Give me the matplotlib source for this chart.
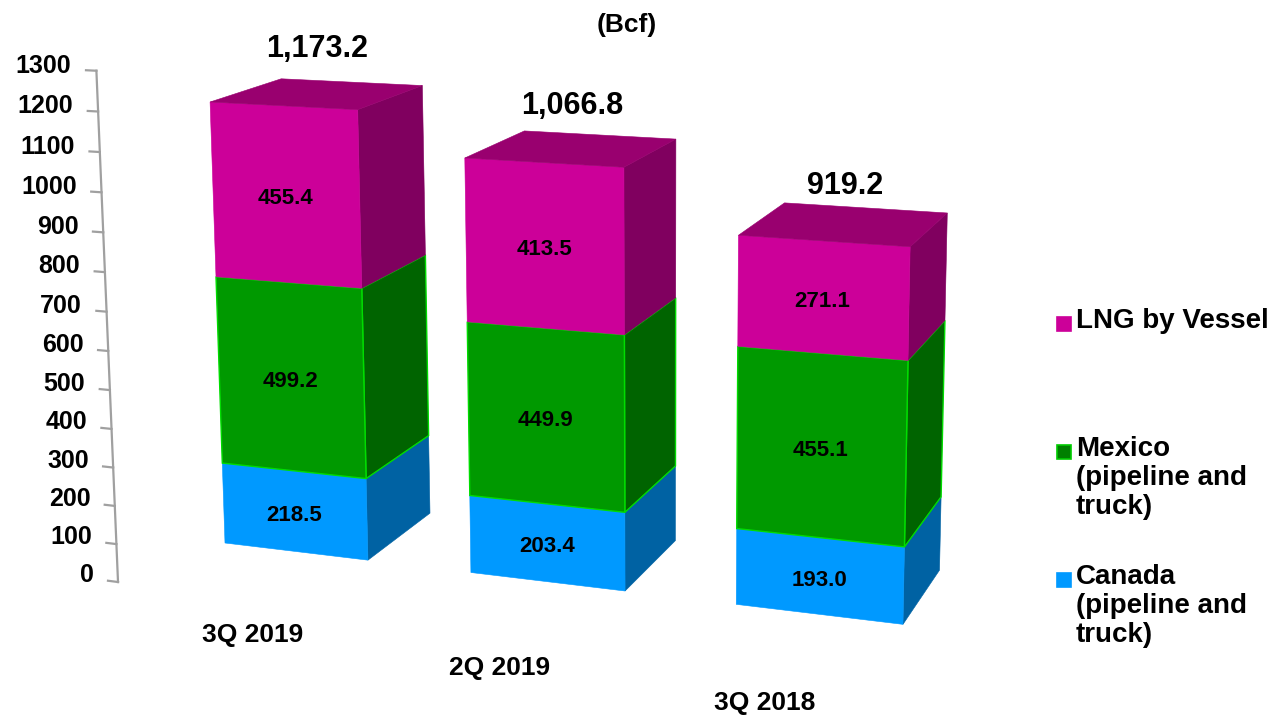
import numpy as np
import matplotlib.pyplot as plt
from matplotlib.patches import Polygon, Rectangle

# data (Bcf)
quarters = ["3Q 2019", "2Q 2019", "3Q 2018"]
canada = [218.5, 203.4, 193.0]
mexico = [499.2, 449.9, 455.1]
lng = [455.4, 413.5, 271.1]
totals = [1173.2, 1066.8, 919.2]
series_names = ["Canada\n(pipeline and\ntruck)", "Mexico\n(pipeline and\ntruck)", "LNG by Vessel"]
y_ticks = list(range(0, 1301, 100))

front_col = ["#0099FF", "#009900", "#CC0099"]
side_col = ["#0062A3", "#006400", "#80005F"]
top_col = ["#0077C4", "#007800", "#99006F"]
edge_col = [None, "#00DD00", None]

# 3-point perspective camera, given by the vanishing points of the
# bar direction (x), the value direction (y) and the depth direction (z)
VX = (-6250.0, -234.0)
VY = (660.0, 13400.0)
VZ = (1550.0, -335.0)
ORIGIN = (225.0, 543.0)
KX, KY, KZ = -0.0216, -2.827e-5, 0.0542


def proj(x, y, z):
    w = 1 + KX * x + KY * y + KZ * z
    u = (KX * x * VX[0] + KY * y * VY[0] + KZ * z * VZ[0] + ORIGIN[0]) / w
    v = (KX * x * VX[1] + KY * y * VY[1] + KZ * z * VZ[1] + ORIGIN[1]) / w
    return u, v


def face(ax, pts, color, edge=None, z=2):
    xy = [proj(*p) for p in pts]
    ax.add_patch(Polygon(xy, closed=True, facecolor=color,
                         edgecolor=edge if edge else color,
                         lw=1.0 if edge else 0.4, zorder=z))


fig = plt.figure(figsize=(12.84, 7.17), dpi=100)
ax = fig.add_axes([0, 0, 1, 1])
ax.set_xlim(0, 1284)
ax.set_ylim(717, 0)
ax.axis("off")

font = dict(family="Liberation Sans", weight="bold", color="black")

# value axis at the back left
XA, ZA = -0.279, -0.884
ax.plot(*zip(proj(XA, 0, ZA), proj(XA, y_ticks[-1], ZA)), color="#A0A0A0", lw=1.6, zorder=1)
for t in y_ticks:
    ax.plot(*zip(proj(XA - 0.07, t, ZA), proj(XA, t, ZA)), color="#A0A0A0", lw=1.6, zorder=1)
    tx, ty = proj(XA - 0.17, t, ZA)
    ax.text(tx, ty - 4, str(t), ha="right", va="center", fontsize=18, **font)

spacing = 1.694
series = [canada, mexico, lng]
for i, q in enumerate(quarters):
    x0 = i * spacing
    x1 = x0 + 1
    bottom = 0.0
    for s, vals in enumerate(series):
        top = bottom + vals[i]
        face(ax, [(x1, bottom, 0), (x1, bottom, 1), (x1, top, 1), (x1, top, 0)],
             side_col[s], edge_col[s])
        face(ax, [(x0, bottom, 0), (x1, bottom, 0), (x1, top, 0), (x0, top, 0)],
             front_col[s], edge_col[s])
        lx, ly = proj(x0 + 0.5, (bottom + top) / 2, 0)
        ax.text(lx, ly + 4, f"{vals[i]:.1f}", ha="center", va="center", fontsize=16, zorder=5, **font)
        bottom = top
    s = len(series) - 1
    face(ax, [(x0, bottom, 0), (x1, bottom, 0), (x1, bottom, 1), (x0, bottom, 1)], top_col[s])
    # total on top
    tx, ty = proj(x0 + 0.5, totals[i] * 1.1, 0.5)
    ax.text(tx, ty, f"{totals[i]:,.1f}", ha="center", va="center", fontsize=22, **font)
    # category label under the bar
    cx, cy = proj(x0 + 0.18, -245, 0)
    ax.text(cx, cy, q, ha="center", va="center", fontsize=19, **font)

ax.text(627, 25, "(Bcf)", ha="center", va="center", fontsize=19, **font)

# legend
leg_y = [580, 452, 324]
for s in range(len(series)):
    ax.add_patch(Rectangle((1057, leg_y[s] - 7), 14, 14, facecolor=front_col[s] if s != 1 else "#008000",
                           edgecolor="#00CC00" if s == 1 else front_col[s], lw=1.2))
    ax.text(1076, leg_y[s] - 16, series_names[s], ha="left", va="top", fontsize=20,
            linespacing=1.15, **font)

fig.savefig("out.png", dpi=100)
